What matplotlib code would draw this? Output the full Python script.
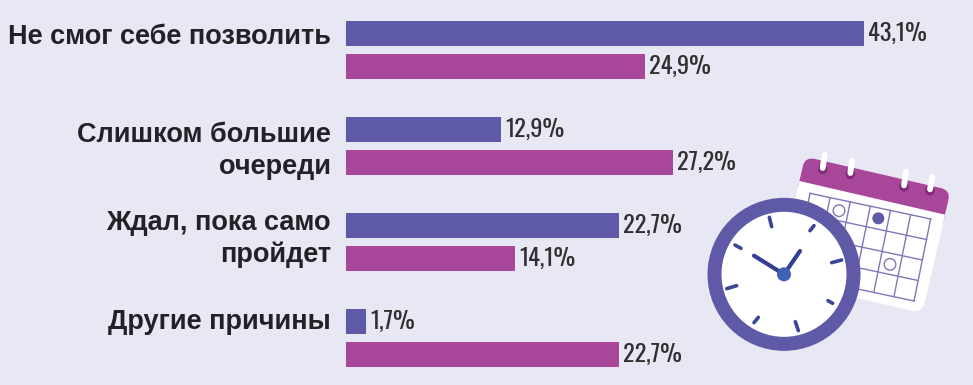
import matplotlib
matplotlib.use("Agg")
import matplotlib.pyplot as plt
from matplotlib import font_manager as fm
from matplotlib.patches import Circle, FancyBboxPatch, Rectangle
from matplotlib.transforms import Affine2D

categories = ["Не смог себе позволить", "Слишком большие\nочереди",
              "Ждал, пока само\nпройдет", "Другие причины"]
series_a = [43.1, 12.9, 22.7, 1.7]
series_b = [24.9, 27.2, 14.1, 22.7]
labels_a = ["43,1%", "12,9%", "22,7%", "1,7%"]
labels_b = ["24,9%", "27,2%", "14,1%", "22,7%"]
label_shift = [-0.135, 0.05, -0.03, -0.17]

BG, C_A, C_B, INK = "#e8e8f5", "#5f5aa8", "#a8479a", "#303030"
W, H = 973, 385
names = {f.name for f in fm.fontManager.ttflist}
narrow = next((n for n in ["Oswald", "Antonio", "Liberation Sans Narrow", "Liberation Sans"] if n in names), "DejaVu Sans")

fig = plt.figure(figsize=(W / 100, H / 100), dpi=100, facecolor=BG)
ax = fig.add_axes([346 / W, 0, 1 - 346 / W, 1], facecolor="none")
scale = 518 / 43.1
step = 96
ax.set_xlim(0, (W - 346) / scale)
ax.set_ylim((H - 50) / step, -50 / step)
ax.axis("off")
off, bh = 16.5 / step, 25 / step
for i, (a, b) in enumerate(zip(series_a, series_b)):
    ax.barh(i - off, a, height=bh, color=C_A)
    ax.barh(i + off, b, height=bh, color=C_B)
    ax.text(a + 0.35, i - off, labels_a[i], family=narrow, fontsize=17.6, weight="light", color=INK, va="center", ha="left")
    ax.text(b + 0.35, i + off, labels_b[i], family=narrow, fontsize=17.6, weight="light", color=INK, va="center", ha="left")
    ax.text(-1.25, i + label_shift[i], categories[i], family="Liberation Sans", weight="bold", fontsize=19.5,
            color="#222226", ha="right", va="center", linespacing=1.28)

# Decorative clock and calendar drawn in pixel coordinates
ic = fig.add_axes([0, 0, 1, 1], facecolor="none")
ic.set_xlim(0, W); ic.set_ylim(H, 0); ic.axis("off")
z = lambda x, y: (x / 3 + 690, y / 3 + 140)
rot = Affine2D().rotate_deg(13).translate(*z(345, 50)) + ic.transData
bw, bh2 = 149.5, 126
ic.add_patch(FancyBboxPatch((0, 0), bw, bh2, boxstyle="round,pad=0,rounding_size=12", fc="white", ec="none", transform=rot))
ic.add_patch(FancyBboxPatch((0, 0), bw, 40, boxstyle="round,pad=0,rounding_size=10", fc=C_B, ec="none", transform=rot))
ic.add_patch(Rectangle((0, 25), bw, 60, fc="white", ec="none", transform=rot))
g0 = z(360, 160); gx = ((722 - 360) / 18, (237 - 160) / 18); gy = ((672 - 722) / 12, (483 - 237) / 12)
gp = lambda c, r: (g0[0] + c * gx[0] + r * gy[0], g0[1] + c * gx[1] + r * gy[1])
for c in range(7):
    p, q = gp(c, 0), gp(c, 4)
    ic.plot([p[0], q[0]], [p[1], q[1]], color="#7d78b8", lw=1.0)
for r in range(5):
    p, q = gp(0, r), gp(6, r)
    ic.plot([p[0], q[0]], [p[1], q[1]], color="#7d78b8", lw=1.0)
ic.add_patch(Circle(z(447, 212), 5.8, fc="white", ec="#7d78b8", lw=1.0))
ic.add_patch(Circle(z(600, 373), 5.8, fc="white", ec="#7d78b8", lw=1.0))
ic.add_patch(Circle(z(565, 235), 6, fc=C_A, ec="none"))
for rx, ry, tx, ty in [(398, 88, 404, 45), (481, 103, 486, 62), (642, 140, 648, 95), (720, 152, 727, 110)]:
    ic.add_patch(Circle(z(rx, ry), 4.8, fc="#7e2a78", ec="none"))
    a, b = z(rx, ry - 4), z(tx, ty)
    ic.plot([a[0], b[0]], [a[1], b[1]], color="white", lw=4.2, solid_capstyle="round")
cx, cy = z(282, 403)
ic.add_patch(Circle((cx, cy), 76.5, fc=C_A, ec="none", zorder=5))
ic.add_patch(Circle((cx, cy), 62.5, fc="white", ec="none", zorder=6))
for x0, y0, x1, y1 in [(238, 232, 245, 260), (372, 257, 360, 272), (455, 360, 425, 368), (428, 490, 414, 482),
                       (316, 545, 325, 572), (205, 532, 192, 548), (110, 446, 140, 437), (135, 315, 153, 325)]:
    a, b = z(x0, y0), z(x1, y1)
    ic.plot([a[0], b[0]], [a[1], b[1]], color="#3d4596", lw=2.6, solid_capstyle="round", zorder=7)
for tip in [(192, 347), (330, 333)]:
    t = z(*tip)
    ic.plot([cx, t[0]], [cy, t[1]], color="#323f93", lw=3, solid_capstyle="round", zorder=7)
ic.add_patch(Circle((cx, cy), 7, fc="#3f60b4", ec="none", zorder=8))

fig.savefig("out.png", dpi=100, facecolor=BG)
